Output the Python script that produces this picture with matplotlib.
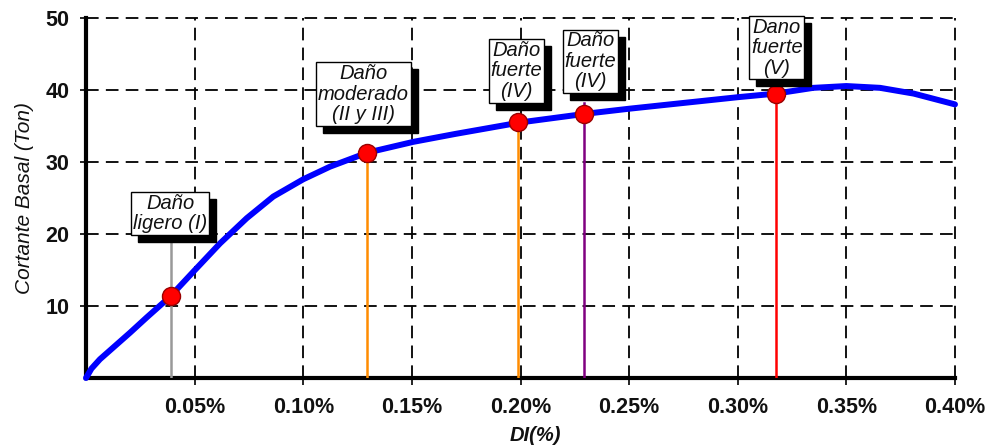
import matplotlib
matplotlib.use("Agg")
import matplotlib.pyplot as plt
from matplotlib.patches import Rectangle
from matplotlib.transforms import IdentityTransform

plt.rcParams['font.family'] = ['Liberation Sans', 'DejaVu Sans']

# Curve data (DI in %, shear in Ton)
curve_x = [0, 0.0025, 0.0064, 0.0126, 0.0203, 0.0279, 0.0387, 0.0494, 0.0617, 0.074,
           0.0862, 0.10, 0.1123, 0.1295, 0.1507, 0.17, 0.20, 0.23, 0.25, 0.2734, 0.30,
           0.3175, 0.3348, 0.35, 0.3655, 0.381, 0.40]
curve_y = [0, 1.3, 2.6, 4.25, 6.3, 8.4, 11.3, 14.76, 18.7, 22.2,
           25.2, 27.6, 29.35, 31.3, 32.8, 33.9, 35.5, 36.7, 37.4, 38.15, 39.0,
           39.5, 40.3, 40.55, 40.3, 39.5, 38.0]

# Damage points
pt_x = [0.039, 0.1295, 0.199, 0.229, 0.3175]
pt_y = [11.4, 31.3, 35.5, 36.7, 39.5]
vline_top = [19.7, 31.3, 35.5, 38.2, 41.1]
vline_colors = ['#999999', '#FF8C00', '#FF8C00', '#800080', '#FF0000']

labels = ['Daño\nligero (I)', 'Daño\nmoderado\n(II y III)', 'Daño\nfuerte\n(IV)',
          'Daño\nfuerte\n(IV)', 'Dano\nfuerte\n(V)']
label_x = [0.0387, 0.1277, 0.1982, 0.2322, 0.318]
label_y = [22.85, 39.44, 42.64, 43.96, 45.9]

xticks = [0.05, 0.10, 0.15, 0.20, 0.25, 0.30, 0.35, 0.40]
xticklabels = ['0.05%', '0.10%', '0.15%', '0.20%', '0.25%', '0.30%', '0.35%', '0.40%']
yticks = [10, 20, 30, 40, 50]

fig = plt.figure(figsize=(9.89, 4.47), dpi=100)
ax = fig.add_axes([86/989, 1-378/447, 869/989, 360/447])
ax.set_xlim(0, 0.40)
ax.set_ylim(0, 50)

ax.set_xticks(xticks)
ax.set_xticklabels(xticklabels, fontsize=15.5, fontweight='bold', color='#111111')
ax.set_yticks(yticks)
ax.set_yticklabels([str(v) for v in yticks], fontsize=15.5, fontweight='bold', color='#111111')
ax.tick_params(axis='x', direction='out', length=5, width=1.2, pad=9)
ax.tick_params(axis='y', direction='out', length=4, width=1.2, pad=8)

for s in ['top', 'right']:
    ax.spines[s].set_visible(False)
for s in ['left', 'bottom']:
    ax.spines[s].set_linewidth(3)

ax.grid(True, color='black', linewidth=1.3, linestyle=(0, (7, 4)))
for gl in ax.get_xgridlines() + ax.get_ygridlines():
    gl.set_clip_on(False)
ax.set_axisbelow(True)

ax.plot(curve_x, curve_y, color='#0000FF', linewidth=4.3, zorder=3,
        solid_capstyle='round', solid_joinstyle='round', clip_on=False)

for x, top, c in zip(pt_x, vline_top, vline_colors):
    ax.plot([x, x], [0, top], color=c, linewidth=1.8, zorder=4)

ax.plot(pt_x, pt_y, linestyle='none', marker='o', markersize=13,
        markerfacecolor='#FF0000', markeredgecolor='#990000', markeredgewidth=1,
        zorder=5)

texts = []
for x, y, t in zip(label_x, label_y, labels):
    txt = ax.text(x, y, t, ha='center', va='center', fontsize=14.5, style='italic',
                  color='#111111', linespacing=1.1, zorder=7,
                  bbox=dict(boxstyle='square,pad=0.08', facecolor='white',
                            edgecolor='black', linewidth=1))
    texts.append(txt)

ax.set_ylabel('Cortante Basal (Ton)', fontsize=15, style='italic', color='#111111')
ax.yaxis.set_label_coords(-(86-34)/869, 0.5)
ax.set_xlabel('DI(%)', fontsize=14.5, style='italic', fontweight='bold', color='#111111')
ax.xaxis.set_label_coords((535-86)/869, -(426-378)/360)

# shadows behind the label boxes
fig.canvas.draw()
for txt in texts:
    bb = txt.get_bbox_patch().get_window_extent()
    shadow = Rectangle((bb.x0 + 7, bb.y0 - 7), bb.width, bb.height,
                       transform=IdentityTransform(), facecolor='black',
                       edgecolor='black', zorder=6, clip_on=False)
    ax.add_artist(shadow)

fig.savefig('out.png', dpi=100)
